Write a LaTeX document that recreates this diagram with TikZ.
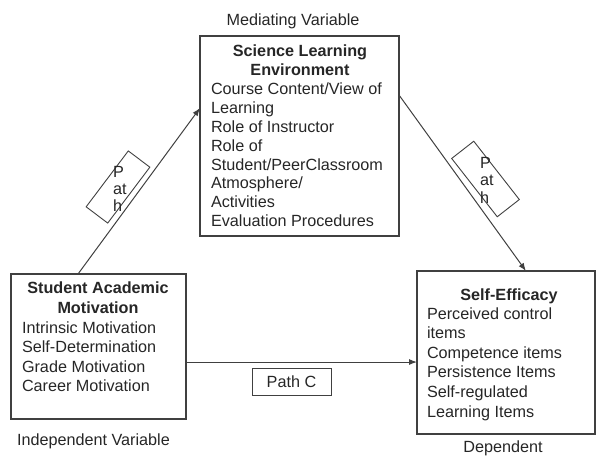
\documentclass[tikz,border=0pt]{standalone}
\usepackage{fontspec}
\setmainfont{Liberation Sans}
\usetikzlibrary{arrows.meta,calc}
\definecolor{ink}{HTML}{262626}
\definecolor{edge}{HTML}{404040}
% a stack of left-aligned lines, baseline at the first line
\newcommand{\leftlines}[2]{{\fontsize{16.2}{#1}\selectfont\begin{tabular}[t]{@{}l@{}}#2\end{tabular}}}
% a stack of centred bold lines, baseline at the first line
\newcommand{\titlelines}[2]{{\fontsize{16.2}{#1}\selectfont\bfseries\begin{tabular}[t]{@{}c@{}}#2\end{tabular}}}
\begin{document}
\begin{tikzpicture}[x=1pt,y=-1pt,
  every node/.style={inner sep=0pt, outer sep=0pt, text=ink, font=\fontsize{16.2}{19}\selectfont},
  frame/.style={draw=edge, line width=1.1pt},
  tag/.style={draw=edge, line width=0.9pt},
  link/.style={draw=edge, line width=1pt, -{Latex[length=8pt,width=6pt]}},
]
\useasboundingbox (0,0) rectangle (599,457);

% the three variable boxes
\node[frame, minimum width=199pt, minimum height=200pt] (env) at (299.5,136) {};
\node[frame, minimum width=175pt, minimum height=145pt] (sam) at (98.5,346.5) {};
\node[frame, minimum width=178pt, minimum height=163pt] (eff) at (506,352.5) {};

% captions
\node[anchor=base] (medcap) at (293,26) {Mediating Variable};
\node[anchor=base west] (indcap) at (17,445) {Independent Variable};
\node[anchor=base] (depcap) at (503,452) {Dependent};

% mediating variable contents
\node[anchor=base] (envtitle) at (300,57) {\titlelines{19}{Science Learning\\Environment}};
\node[anchor=base west] (envbody) at (211,95) {\leftlines{18.8}{Course Content/View of\\Learning\\Role of Instructor\\Role of\\Student/PeerClassroom\\Atmosphere/\\Activities\\Evaluation Procedures}};

% independent variable contents
\node[anchor=base] (samtitle) at (98,293) {\titlelines{20}{Student Academic\\Motivation}};
\node[anchor=base west] (sambody) at (22,333) {\leftlines{19.5}{Intrinsic Motivation\\Self-Determination\\Grade Motivation\\Career Motivation}};

% dependent variable contents
\node[anchor=base] (efftitle) at (509,300) {\titlelines{19}{Self-Efficacy}};
\node[anchor=base west] (effbody) at (427,319) {\leftlines{19.6}{Perceived control\\items\\Competence items\\Persistence Items\\Self-regulated\\Learning Items}};

% connectors
\draw[link] ($(sam.north west)!0.383!(sam.north east)$) -- ($(env.north west)!0.36!(env.south west)$);
\draw[link] ($(env.north east)!0.295!(env.south east)$) -- ($(eff.north west)!0.612!(eff.north east)$);
\coordinate (cstart) at ($(sam.north east)!0.607!(sam.south east)$);
\draw[link] (cstart) -- (cstart -| eff.west);

% path tags
\node[tag, minimum width=70pt, minimum height=27pt, rotate=53] (pathA) at (118,187) {};
\node[anchor=base west] (pathAtext) at (113,178) {\leftlines{17}{P\\at\\h}};
\node[tag, minimum width=74pt, minimum height=28pt, rotate=-52] (pathB) at (485.5,179) {};
\node[anchor=base west] (pathBtext) at (480,168) {\leftlines{17.5}{P\\at\\h}};
\node[tag, minimum width=79pt, minimum height=27pt] (pathC) at (291.5,381.5) {Path C};
\end{tikzpicture}
\end{document}
